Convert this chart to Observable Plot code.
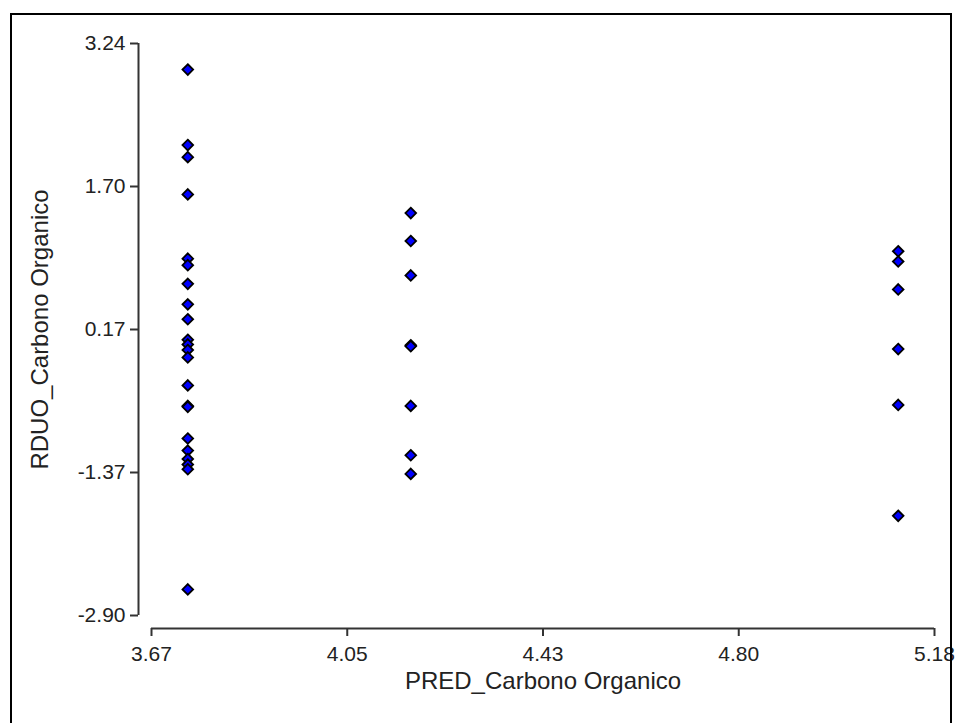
<!DOCTYPE html>
<html>
<head>
<meta charset="utf-8">
<script src="https://cdn.jsdelivr.net/npm/d3@7"></script>
<script src="https://cdn.jsdelivr.net/npm/@observablehq/plot@0.6"></script>
<style>
  html, body { margin: 0; padding: 0; background: #fff; }
  #wrap { position: relative; width: 961px; height: 723px; overflow: hidden; }
  #box { position: absolute; left: 10px; top: 13px; width: 942px; height: 730px;
         border: 2px solid #000; box-sizing: border-box; pointer-events: none; }
  #chart svg { display: block; }
</style>
</head>
<body>
<div id="wrap">
  <div id="chart"></div>
  <div id="box"></div>
</div>
<script>
// Predicted values (x) and residuals (y) for Carbono Organico
const pred = [
  3.74, 3.74, 3.74, 3.74, 3.74, 3.74, 3.74, 3.74, 3.74, 3.74, 3.74,
  3.74, 3.74, 3.74, 3.74, 3.74, 3.74, 3.74, 3.74, 3.74, 3.74, 3.74,
  4.17, 4.17, 4.17, 4.17, 4.17, 4.17, 4.17, 4.17,
  5.11, 5.11, 5.11, 5.11, 5.11, 5.11
];
const resid = [
  2.96, 2.15, 2.02, 1.62, 0.93, 0.86, 0.66, 0.44, 0.28, 0.06, 0.01,
  -0.05, -0.13, -0.43, -0.65, -0.66, -1.00, -1.13, -1.22, -1.28, -1.33, -2.62,
  1.42, 1.12, 0.75, 0.00, -0.01, -0.65, -1.18, -1.38,
  1.01, 0.90, 0.60, -0.04, -0.64, -1.83
];

// Axis ticks and their printed labels
const xTicks = [3.67, 4.0475, 4.425, 4.8025, 5.18];
const xTickLabels = ["3.67", "4.05", "4.43", "4.80", "5.18"];
const yTicks = [3.24, 1.705, 0.17, -1.365, -2.90];
const yTickLabels = ["3.24", "1.70", "0.17", "-1.37", "-2.90"];

const xLabel = "PRED_Carbono Organico";
const yLabel = "RDUO_Carbono Organico";

const data = pred.map((x, i) => ({x, y: resid[i]}));
const xFmt = new Map(xTicks.map((t, i) => [t, xTickLabels[i]]));
const yFmt = new Map(yTicks.map((t, i) => [t, yTickLabels[i]]));

const axisColor = "#333";
const textColor = "#222";
const font = "Liberation Sans, Arial, sans-serif";

const chart = Plot.plot({
  width: 961,
  height: 723,
  marginLeft: 151,
  marginRight: 27,
  marginTop: 43,
  marginBottom: 108,
  style: {fontFamily: font, background: "#fff"},
  x: {domain: [xTicks[0], xTicks[xTicks.length - 1]]},
  y: {domain: [yTicks[yTicks.length - 1], yTicks[0]]},
  marks: [
    // axis lines, set apart from the plotting area
    Plot.ruleX([xTicks[0]], {dx: -13, stroke: axisColor, strokeWidth: 2}),
    Plot.ruleY([yTicks[yTicks.length - 1]], {dy: 13, stroke: axisColor, strokeWidth: 2}),
    Plot.axisY({
      ticks: yTicks, tickFormat: d => yFmt.get(d), dx: -13,
      tickSize: 8, tickPadding: 5, strokeWidth: 2, stroke: axisColor,
      fill: textColor, fontSize: 21, label: null
    }),
    Plot.axisX({
      ticks: xTicks, tickFormat: d => xFmt.get(d), dy: 13,
      tickSize: 8, tickPadding: 10, strokeWidth: 2, stroke: axisColor,
      fill: textColor, fontSize: 21, label: null
    }),
    Plot.text([xLabel], {frameAnchor: "bottom", dy: 73, fontSize: 24, fill: textColor}),
    Plot.text([yLabel], {
      frameAnchor: "left", textAnchor: "middle", dx: -111, rotate: -90,
      fontSize: 24, fill: textColor
    }),
    Plot.dot(data, {
      x: "x", y: "y", symbol: "diamond2", r: 4.8,
      fill: "#0000FF", stroke: "#000", strokeWidth: 1.8
    })
  ]
});

document.getElementById("chart").appendChild(chart);
</script>
</body>
</html>
